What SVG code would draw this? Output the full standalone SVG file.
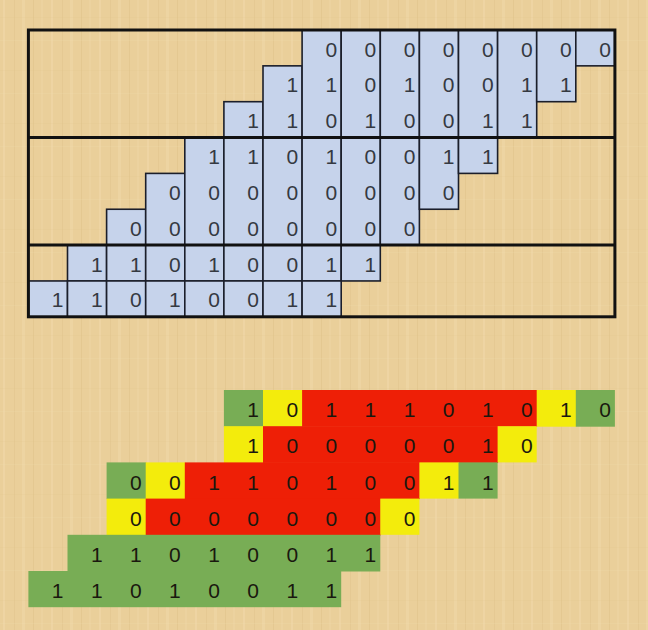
<svg xmlns="http://www.w3.org/2000/svg" width="648" height="630" viewBox="0 0 648 630">
<style>
.c{fill:#c6d3eb;stroke:#1b1e2a;stroke-width:1.6}
.fr{fill:none;stroke:#111;stroke-width:3}
.sep{stroke:#111;stroke-width:3}
.t{font-family:"Liberation Sans",Arial,sans-serif;font-size:21px;fill:#353941}
.b{font-family:"Liberation Sans",Arial,sans-serif;font-size:21px;fill:#1a180f}
.G{fill:#78ad55}
.Y{fill:#f3ec0c}
.R{fill:#ee1f06}
</style>
<defs>
<pattern id="paper" width="48" height="53" patternUnits="userSpaceOnUse">
<rect width="48" height="53" fill="#eacf9a"/>
<rect x="3" width="2" height="53" fill="#f1daab" opacity="0.5"/>
<rect x="14" width="1" height="53" fill="#dcbd84" opacity="0.3"/>
<rect x="22" width="3" height="53" fill="#f2ddb0" opacity="0.4"/>
<rect x="33" width="1" height="53" fill="#d8b97f" opacity="0.3"/>
<rect x="41" width="2" height="53" fill="#efd6a4" opacity="0.45"/>
<rect y="17" width="48" height="1" fill="#dcbf88" opacity="0.15"/>
<rect y="40" width="48" height="1" fill="#f1dbad" opacity="0.2"/>
</pattern>
</defs>
<rect width="648" height="630" fill="url(#paper)"/>

<g id="top-grid">
<g id="top-section-a">
<rect class="c" x="223.9" y="101.7" width="39.1" height="35.85"/>
<rect class="c" x="263.0" y="65.85" width="39.1" height="71.7"/>
<rect class="c" x="302.1" y="30" width="39.1" height="107.55"/>
<rect class="c" x="341.2" y="30" width="39.1" height="107.55"/>
<rect class="c" x="380.3" y="30" width="39.1" height="107.55"/>
<rect class="c" x="419.4" y="30" width="39.1" height="107.55"/>
<rect class="c" x="458.5" y="30" width="39.1" height="107.55"/>
<rect class="c" x="497.6" y="30" width="39.1" height="107.55"/>
<rect class="c" x="536.7" y="30" width="39.1" height="71.7"/>
<rect class="c" x="575.8" y="30" width="39.1" height="35.85"/>
<text class="t" x="325.5 364.6 403.7 442.8 481.9 521.0 560.1 599.2" y="56.5">00000000</text>
<text class="t" x="286.4 325.5 364.6 403.7 442.8 481.9 521.0 560.1" y="92.35">11010011</text>
<text class="t" x="247.3 286.4 325.5 364.6 403.7 442.8 481.9 521.0" y="128.2">11010011</text>
</g>
<g id="top-section-b">
<rect class="c" x="106.6" y="209.25" width="39.1" height="35.85"/>
<rect class="c" x="145.7" y="173.4" width="39.1" height="71.7"/>
<rect class="c" x="184.8" y="137.55" width="39.1" height="107.55"/>
<rect class="c" x="223.9" y="137.55" width="39.1" height="107.55"/>
<rect class="c" x="263.0" y="137.55" width="39.1" height="107.55"/>
<rect class="c" x="302.1" y="137.55" width="39.1" height="107.55"/>
<rect class="c" x="341.2" y="137.55" width="39.1" height="107.55"/>
<rect class="c" x="380.3" y="137.55" width="39.1" height="107.55"/>
<rect class="c" x="419.4" y="137.55" width="39.1" height="71.7"/>
<rect class="c" x="458.5" y="137.55" width="39.1" height="35.85"/>
<text class="t" x="208.2 247.3 286.4 325.5 364.6 403.7 442.8 481.9" y="164.05">11010011</text>
<text class="t" x="169.1 208.2 247.3 286.4 325.5 364.6 403.7 442.8" y="199.9">00000000</text>
<text class="t" x="130.0 169.1 208.2 247.3 286.4 325.5 364.6 403.7" y="235.75">00000000</text>
</g>
<g id="top-section-c">
<rect class="c" x="67.5" y="245.1" width="39.1" height="35.85"/>
<rect class="c" x="106.6" y="245.1" width="39.1" height="35.85"/>
<rect class="c" x="145.7" y="245.1" width="39.1" height="35.85"/>
<rect class="c" x="184.8" y="245.1" width="39.1" height="35.85"/>
<rect class="c" x="223.9" y="245.1" width="39.1" height="35.85"/>
<rect class="c" x="263.0" y="245.1" width="39.1" height="35.85"/>
<rect class="c" x="302.1" y="245.1" width="39.1" height="35.85"/>
<rect class="c" x="341.2" y="245.1" width="39.1" height="35.85"/>
<rect class="c" x="28.4" y="280.95" width="39.1" height="35.85"/>
<rect class="c" x="67.5" y="280.95" width="39.1" height="35.85"/>
<rect class="c" x="106.6" y="280.95" width="39.1" height="35.85"/>
<rect class="c" x="145.7" y="280.95" width="39.1" height="35.85"/>
<rect class="c" x="184.8" y="280.95" width="39.1" height="35.85"/>
<rect class="c" x="223.9" y="280.95" width="39.1" height="35.85"/>
<rect class="c" x="263.0" y="280.95" width="39.1" height="35.85"/>
<rect class="c" x="302.1" y="280.95" width="39.1" height="35.85"/>
<text class="t" x="90.9 130.0 169.1 208.2 247.3 286.4 325.5 364.6" y="271.6">11010011</text>
<text class="t" x="51.8 90.9 130.0 169.1 208.2 247.3 286.4 325.5" y="307.45">11010011</text>
</g>
<g id="top-frame">
<rect class="fr" x="28.4" y="30" width="586.5" height="286.8"/>
<line class="sep" x1="28.4" y1="137.55" x2="614.9" y2="137.55"/>
<line class="sep" x1="28.4" y1="245.1" x2="614.9" y2="245.1"/>
</g>
</g>

<g id="bottom-sum">
<g id="sum-row-0">
<rect class="G" x="223.9" y="390" width="39.6" height="36.7"/>
<rect class="Y" x="263.0" y="390" width="39.6" height="36.7"/>
<rect class="R" x="302.1" y="390" width="235.1" height="36.7"/>
<rect class="Y" x="536.7" y="390" width="39.6" height="36.7"/>
<rect class="G" x="575.8" y="390" width="39.1" height="36.7"/>
<text class="b" x="247.3 286.4 325.5 364.6 403.7 442.8 481.9 521.0 560.1 599.2" y="417.2">1011101010</text>
</g>
<g id="sum-row-1">
<rect class="Y" x="223.9" y="426.2" width="39.6" height="36.7"/>
<rect class="R" x="263.0" y="426.2" width="235.1" height="36.7"/>
<rect class="Y" x="497.6" y="426.2" width="39.1" height="36.2"/>
<text class="b" x="247.3 286.4 325.5 364.6 403.7 442.8 481.9 521.0" y="453.4">10000010</text>
</g>
<g id="sum-row-2">
<rect class="G" x="106.6" y="462.4" width="39.6" height="36.7"/>
<rect class="Y" x="145.7" y="462.4" width="39.6" height="36.7"/>
<rect class="R" x="184.8" y="462.4" width="235.1" height="36.7"/>
<rect class="Y" x="419.4" y="462.4" width="39.6" height="36.2"/>
<rect class="G" x="458.5" y="462.4" width="39.1" height="36.2"/>
<text class="b" x="130.0 169.1 208.2 247.3 286.4 325.5 364.6 403.7 442.8 481.9" y="489.6">0011010011</text>
</g>
<g id="sum-row-3">
<rect class="Y" x="106.6" y="498.6" width="39.6" height="36.7"/>
<rect class="R" x="145.7" y="498.6" width="235.1" height="36.7"/>
<rect class="Y" x="380.3" y="498.6" width="39.1" height="36.2"/>
<text class="b" x="130.0 169.1 208.2 247.3 286.4 325.5 364.6 403.7" y="525.8">00000000</text>
</g>
<g id="sum-row-4">
<rect class="G" x="67.5" y="534.8" width="312.8" height="36.7"/>
<text class="b" x="90.9 130.0 169.1 208.2 247.3 286.4 325.5 364.6" y="562.0">11010011</text>
</g>
<g id="sum-row-5">
<rect class="G" x="28.4" y="571.0" width="312.8" height="36.2"/>
<text class="b" x="51.8 90.9 130.0 169.1 208.2 247.3 286.4 325.5" y="598.2">11010011</text>
</g>
</g>
</svg>
